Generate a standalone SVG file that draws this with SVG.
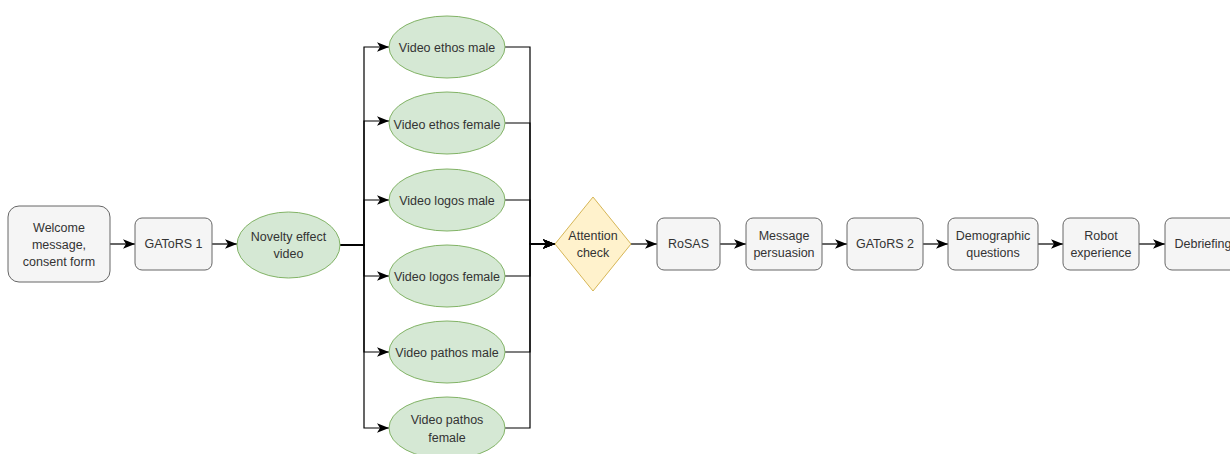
<svg xmlns="http://www.w3.org/2000/svg" width="1230" height="454" viewBox="0 0 1230 454">
<style>
.box{fill:#f5f5f5;stroke:#666666;stroke-width:1}
.ell{fill:#d5e8d4;stroke:#82b366;stroke-width:1}
.dia{fill:#fff2cc;stroke:#d6b656;stroke-width:1}
.t{font-family:"Liberation Sans",Arial,sans-serif;font-size:12.5px;fill:#333333;text-anchor:middle;dominant-baseline:central}
.c{fill:none;stroke:#000000;stroke-width:1.2}
</style>
<defs>
<marker id="arr" markerUnits="userSpaceOnUse" markerWidth="12" markerHeight="12" viewBox="0 0 10 10" refX="10" refY="5" orient="auto">
<path d="M0,1 L10,5 L0,9 L2.5,5 Z" fill="#000000"/>
</marker>
</defs>
<rect width="1230" height="454" fill="#ffffff"/>
<g id="connectors">
<path class="c" d="M110,244 H135" marker-end="url(#arr)"/>
<path class="c" d="M212,244 H237" marker-end="url(#arr)"/>
<path class="c" d="M340,245 H364 V47 H389" marker-end="url(#arr)"/>
<path class="c" d="M340,245 H364 V121 H389" marker-end="url(#arr)"/>
<path class="c" d="M340,245 H364 V200 H389" marker-end="url(#arr)"/>
<path class="c" d="M340,245 H364 V276 H389" marker-end="url(#arr)"/>
<path class="c" d="M340,245 H364 V352 H389" marker-end="url(#arr)"/>
<path class="c" d="M340,245 H364 V428 H389" marker-end="url(#arr)"/>
<path class="c" d="M505,47 H530 V244 H555" marker-end="url(#arr)"/>
<path class="c" d="M505,123 H530 V244 H555" marker-end="url(#arr)"/>
<path class="c" d="M505,200 H530 V244 H555" marker-end="url(#arr)"/>
<path class="c" d="M505,276 H530 V244 H555" marker-end="url(#arr)"/>
<path class="c" d="M505,352 H530 V244 H555" marker-end="url(#arr)"/>
<path class="c" d="M505,428 H530 V244 H555" marker-end="url(#arr)"/>
<path class="c" d="M631,244 H657" marker-end="url(#arr)"/>
<path class="c" d="M720,244 H746" marker-end="url(#arr)"/>
<path class="c" d="M822,244 H847" marker-end="url(#arr)"/>
<path class="c" d="M923,244 H948" marker-end="url(#arr)"/>
<path class="c" d="M1038,244 H1063" marker-end="url(#arr)"/>
<path class="c" d="M1139,244 H1165" marker-end="url(#arr)"/>
</g>
<g id="welcome">
<rect class="box" x="8" y="206" width="102" height="76" rx="11"/>
<text class="t" x="59" y="228">Welcome</text>
<text class="t" x="59" y="245">message,</text>
<text class="t" x="59" y="262">consent form</text>
</g>
<g id="gators1">
<rect class="box" x="135" y="218" width="77" height="52" rx="7"/>
<text class="t" x="173.5" y="244">GAToRS 1</text>
</g>
<g id="novelty">
<ellipse class="ell" cx="288.5" cy="245" rx="51.5" ry="33"/>
<text class="t" x="288.5" y="237">Novelty effect</text>
<text class="t" x="288.5" y="254">video</text>
</g>
<g id="ethos-male">
<ellipse class="ell" cx="447" cy="47" rx="58" ry="31"/>
<text class="t" x="447" y="48">Video ethos male</text>
</g>
<g id="ethos-female">
<ellipse class="ell" cx="447" cy="123" rx="58" ry="31"/>
<text class="t" x="447" y="125">Video ethos female</text>
</g>
<g id="logos-male">
<ellipse class="ell" cx="447" cy="200" rx="58" ry="31"/>
<text class="t" x="447" y="201">Video logos male</text>
</g>
<g id="logos-female">
<ellipse class="ell" cx="447" cy="276" rx="58" ry="31"/>
<text class="t" x="447" y="277">Video logos female</text>
</g>
<g id="pathos-male">
<ellipse class="ell" cx="447" cy="352" rx="58" ry="31"/>
<text class="t" x="447" y="353">Video pathos male</text>
</g>
<g id="pathos-female">
<ellipse class="ell" cx="447" cy="428" rx="58" ry="31"/>
<text class="t" x="447" y="420">Video pathos</text>
<text class="t" x="447" y="438">female</text>
</g>
<g id="attention">
<polygon class="dia" points="593,197 631,244 593,291 555,244"/>
<text class="t" x="593" y="236">Attention</text>
<text class="t" x="593" y="253">check</text>
</g>
<g id="rosas">
<rect class="box" x="657" y="218" width="63" height="52" rx="7"/>
<text class="t" x="688.5" y="244">RoSAS</text>
</g>
<g id="message">
<rect class="box" x="746" y="218" width="76" height="52" rx="7"/>
<text class="t" x="784" y="236">Message</text>
<text class="t" x="784" y="253">persuasion</text>
</g>
<g id="gators2">
<rect class="box" x="847" y="218" width="76" height="52" rx="7"/>
<text class="t" x="885" y="244">GAToRS 2</text>
</g>
<g id="demographic">
<rect class="box" x="948" y="218" width="90" height="52" rx="7"/>
<text class="t" x="993" y="236">Demographic</text>
<text class="t" x="993" y="253">questions</text>
</g>
<g id="robot">
<rect class="box" x="1063" y="218" width="76" height="52" rx="7"/>
<text class="t" x="1101" y="236">Robot</text>
<text class="t" x="1101" y="253">experience</text>
</g>
<g id="debriefing">
<rect class="box" x="1165" y="218" width="76" height="52" rx="7"/>
<text class="t" x="1203" y="244">Debriefing</text>
</g>
</svg>
